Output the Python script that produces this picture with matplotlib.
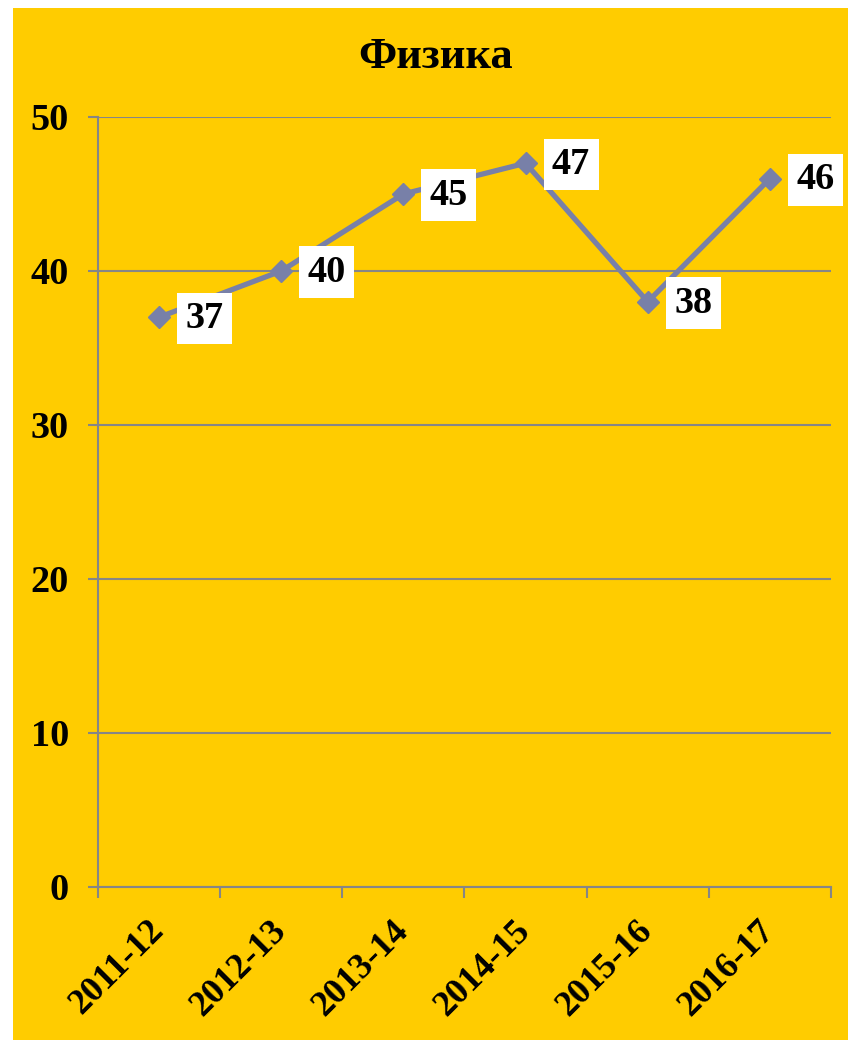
import matplotlib.pyplot as plt
import numpy as np
from matplotlib.patches import Rectangle

seasons = ['2011-12', '2012-13', '2013-14', '2014-15', '2015-16', '2016-17']
scores = [37, 40, 45, 47, 38, 46]
title = 'Физика'

gold = '#FFCC00'
grid_gray = '#868686'
line_col = '#7880A8'

plt.rcParams['font.family'] = ['Liberation Serif', 'DejaVu Serif']
plt.rcParams['font.weight'] = 'bold'

fig = plt.figure(figsize=(8.48, 10.4), dpi=100, facecolor='white')
# gold panel with thin white margin on top/left
fig.patches.append(Rectangle((13/848, 0), 1, 1 - 8/1040, transform=fig.transFigure,
                             facecolor=gold, edgecolor='none', zorder=-10))

ax = fig.add_axes([98/848, 1 - 887/1040, (831-98)/848, (887-117)/1040])
ax.set_facecolor(gold)

x = np.arange(len(seasons))
ax.plot(x, scores, color=line_col, lw=3.8, marker='D', ms=11, zorder=3, clip_on=False)

for xi, v in zip(x, scores):
    ax.annotate(str(v), (xi, v), xytext=(19, -1), textcoords='offset points',
                ha='left', va='center', fontsize=27.5, fontweight='bold', color='black',
                bbox=dict(boxstyle='square,pad=0.22', facecolor='white', edgecolor='none'),
                zorder=4)

ax.set_xlim(-0.5, len(seasons) - 0.5)
ax.set_ylim(0, 50)
ax.set_yticks(np.arange(0, 51, 10))
ax.grid(axis='y', color=grid_gray, lw=1.5)
ax.set_axisbelow(True)

# ticks at category boundaries, labels in the middle
ax.set_xticks(np.arange(-0.5, len(seasons)), labels=[])
ax.set_xticks(x, minor=True)
ax.set_xticklabels(seasons, minor=True, rotation=45, ha='right', va='center',
                   rotation_mode='anchor', fontsize=26, fontweight='bold')
ax.tick_params(axis='x', which='major', length=8, width=1.5, color=grid_gray, direction='out')
ax.tick_params(axis='x', which='minor', length=0, pad=28)
ax.tick_params(axis='y', length=7, width=1.5, color=grid_gray, pad=14, labelsize=27.5)
for lab in ax.get_yticklabels():
    lab.set_fontweight('bold')

for s in ['top', 'right']:
    ax.spines[s].set_visible(False)
for s in ['left', 'bottom']:
    ax.spines[s].set_color(grid_gray)
    ax.spines[s].set_linewidth(1.5)

fig.text(436/848, 1 - 57/1040, title, ha='center', va='center', fontsize=32, fontweight='bold')

fig.savefig('out.png', dpi=100, facecolor='white')
